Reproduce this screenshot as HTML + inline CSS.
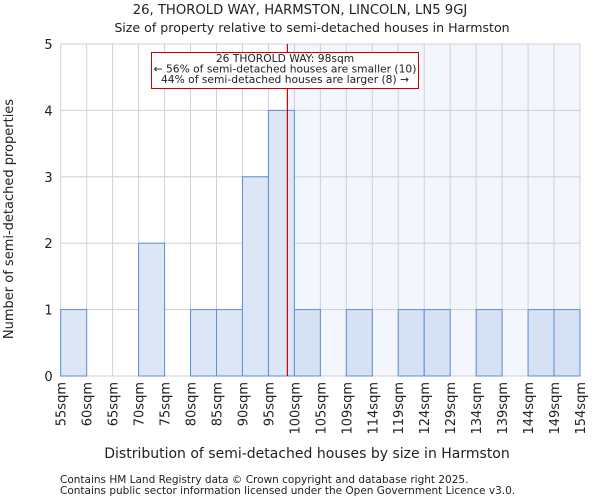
<!DOCTYPE html>
<html><head><meta charset="utf-8"><style>
body{margin:0;background:#fff;font-family:"DejaVu Sans","Liberation Sans",sans-serif;}
svg text{font-family:"DejaVu Sans","Liberation Sans",sans-serif;fill:#222;}
</style></head><body>
<svg id="chart" width="600" height="500">
<text x="300" y="14" font-size="13.2" text-anchor="middle">26, THOROLD WAY, HARMSTON, LINCOLN, LN5 9GJ</text>
<text x="312" y="32" font-size="12.6" text-anchor="middle">Size of property relative to semi-detached houses in Harmston</text>
<g id="plot"></g>
<text x="307" y="458" font-size="14" text-anchor="middle">Distribution of semi-detached houses by size in Harmston</text>
<text transform="translate(13,219) rotate(-90)" font-size="13" text-anchor="middle">Number of semi-detached properties</text>
<text x="60" y="483" font-size="10.5">Contains HM Land Registry data © Crown copyright and database right 2025.</text>
<text x="60" y="494" font-size="10.5">Contains public sector information licensed under the Open Government Licence v3.0.</text>
</svg>
<script>
const binLabels=["55sqm","60sqm","65sqm","70sqm","75sqm","80sqm","85sqm","90sqm","95sqm","100sqm","105sqm","109sqm","114sqm","119sqm","124sqm","129sqm","134sqm","139sqm","144sqm","149sqm","154sqm"];
const counts=[1,0,0,2,0,1,1,3,4,1,0,1,0,1,1,0,1,0,1,1];
const yTicks=[0,1,2,3,4,5];
const propertyBinPos=[8.73];
const NS="http://www.w3.org/2000/svg";
const L=60.7,R=580,T=44,B=376,yMax=5;
const bw=(R-L)/counts.length;
const xs=i=>L+i*bw;
const ys=v=>B-(v/yMax)*(B-T);
const g=document.getElementById('plot');
function mk(t,a){const e=document.createElementNS(NS,t);for(const k in a)e.setAttribute(k,a[k]);g.appendChild(e);return e;}
const px=xs(propertyBinPos[0]);
let e=mk('rect',{x:px,y:T,width:R-px,height:B-T,fill:'#f3f6fd'});


for(let i=0;i<=counts.length;i++){e=mk('line',{x1:xs(i),x2:xs(i),y1:T,y2:B,stroke:'#d0d0d0','stroke-width':1});

}
yTicks.forEach(v=>{e=mk('line',{x1:L,x2:R,y1:ys(v),y2:ys(v),stroke:'#d0d0d0','stroke-width':1});


const t=mk('text',{x:L-8,y:ys(v)+5,'font-size':13,'text-anchor':'end'});t.textContent=v;

});
counts.forEach((c,i)=>{if(c>0){const r=mk('rect',{x:xs(i),y:ys(c),width:bw,height:B-ys(c),fill:i>=9?'#d6e1f3':'#dce6f4',stroke:'#5b8fd6','stroke-width':1});

}});
binLabels.forEach((l,i)=>{const t=mk('text',{transform:`translate(${xs(i)+5},382) rotate(-90)`,'font-size':13,'text-anchor':'end'});t.textContent=l;

});
e=mk('line',{x1:px,x2:px,y1:T,y2:B,stroke:'#cc0000','stroke-width':1.2});


e=mk('rect',{x:151.5,y:52.5,width:267,height:36,fill:'#fff',stroke:'#cc0000','stroke-width':1});


["26 THOROLD WAY: 98sqm","← 56% of semi-detached houses are smaller (10)","44% of semi-detached houses are larger (8) →"].forEach((s,k)=>{const t=mk('text',{x:285,y:62+k*10.5,'font-size':10.7,'text-anchor':'middle'});t.textContent=s;

});
</script>
</body></html>
